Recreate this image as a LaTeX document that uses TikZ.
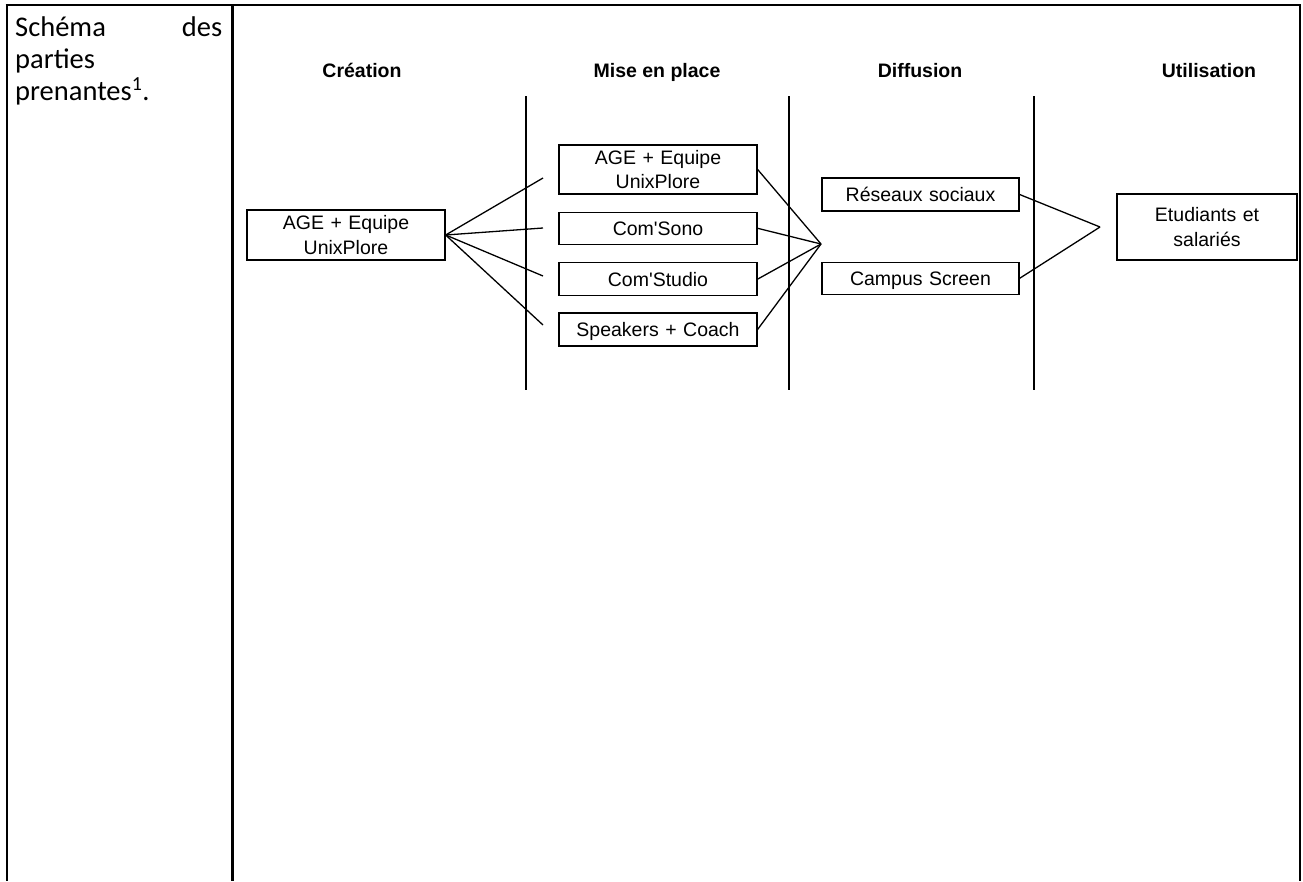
\documentclass[tikz,border=0pt]{standalone}
\usepackage{fontspec}
\setmainfont{Liberation Sans}
\newfontfamily\cellfont{Carlito}
\usetikzlibrary{positioning}
\tikzset{
    %Define style for boxes
    acteur/.style={
           rectangle,
           draw=black, line width=1.3pt,
           inner sep=0pt,
           text width=198pt,
           minimum height=33pt,
           align=center,
           font=\fontsize{19.5}{24.5}\selectfont},
    % one line boxes
    simple/.style={
           acteur,
           text height=14pt,
           text depth=0pt},
    %Define style for column titles
    etape/.style={
           anchor=base,
           font=\bfseries\fontsize{19.5}{24}\selectfont},
    % Define link style
    lien/.style={
           -,
           line width=1.3pt},
    % Table rules
    tableau/.style={
           line width=2.6pt}
}
\begin{document}
\begin{tikzpicture}[x=1pt,y=-1pt]
 \useasboundingbox (0,0) rectangle (1303,881);
 \fill[white] (0,0) rectangle (1303,881);

 %Table
 \draw[tableau] (5.7,5) -- (1301.3,5);
 \draw[tableau] (7,5) -- (7,881);
 \draw[tableau] (232.5,5) -- (232.5,881);
 \draw[tableau] (1300,5) -- (1300,881);
 \node[anchor=base west,inner sep=0pt,text width=207pt,align=left,
       font=\cellfont\fontsize{28.5}{32}\selectfont] (legende) at (15,36)
       {Schéma\hfill des\\parties\\prenantes\textsuperscript{1}.};

 %Column titles
 \node[etape] (creation) at (362,77) {Création};
 \node[etape] (miseplace) at (657,77) {Mise en place};
 \node[etape] (diffusion) at (920,77) {Diffusion};
 \node[etape] (utilisation) at (1209,77) {Utilisation};

 %%%%%
 \draw[line width=1.3pt] (526,96) -- (526,390);
 \draw[line width=1.3pt] (789,96) -- (789,390);
 \draw[line width=1.3pt] (1034,96) -- (1034,390);
 %%%%%

 %Creation
 \node[acteur,minimum height=50pt] (age) at (346,235) {AGE + Equipe\\UnixPlore};

 %Mise en place
 \node[acteur,minimum height=49pt] (age2) at (658,169.5) {AGE + Equipe\\UnixPlore};
 \node[simple,minimum height=32pt,below=17pt of age2] (sono) {Com\textquotesingle Sono};
 \node[simple,below=17pt of sono] (studio) {Com\textquotesingle Studio};
 \node[simple,below=16pt of studio] (speakers) {Speakers + Coach};

 \coordinate (a1) at (543,178);
 \coordinate (a2) at (543,228);
 \coordinate (a3) at (543,276);
 \coordinate (a4) at (543,325);
 \foreach \p in {a1,a2,a3,a4}
   \draw[lien] (age.east) -- (\p);

 %Diffusion
 \coordinate (hub) at (821,244);
 \foreach \b in {age2,sono,studio,speakers}
   \draw[lien] (\b.east) -- (hub);

 \node[simple,text width=197pt] (reseaux) at (920.5,194.5) {Réseaux sociaux};
 \node[simple,text width=197pt,minimum height=32pt,below=50pt of reseaux] (campus) {Campus Screen};

 %Utilisation
 \coordinate (hub2) at (1100,227);
 \draw[lien] (reseaux.east) -- (hub2);
 \draw[lien] (campus.east) -- (hub2);

 \node[acteur,text width=180pt,minimum height=66pt] (etudiants) at (1207,227) {Etudiants et\\salariés};
\end{tikzpicture}
\end{document}
